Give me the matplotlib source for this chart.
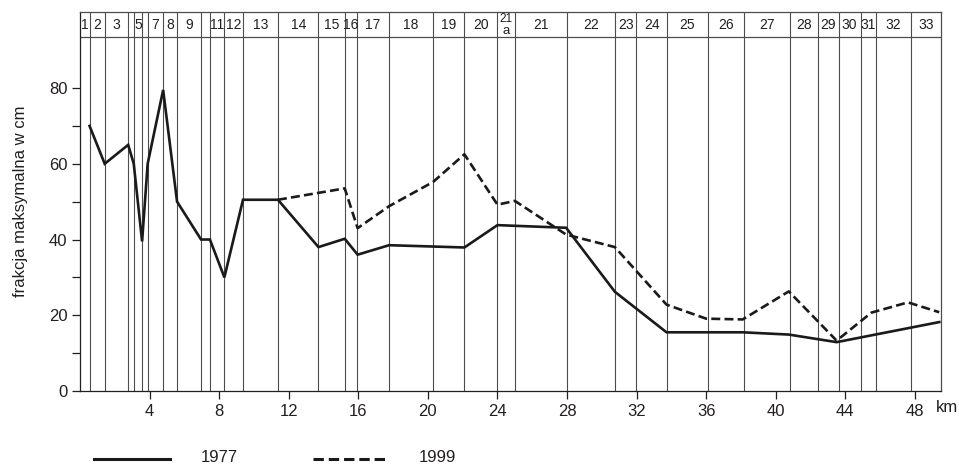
import matplotlib.pyplot as plt
from matplotlib.lines import Line2D

plt.rcParams['font.family'] = ['Liberation Sans', 'DejaVu Sans']

# section boundaries along the river (km) and their labels in the top strip
bounds = [0, 0.55, 1.42, 2.77, 3.09, 3.57, 3.89, 4.78, 5.58, 6.96, 7.47, 8.30,
          9.37, 11.38, 13.71, 15.22, 15.94, 17.75, 20.32, 22.10, 24.00, 25.00,
          27.98, 30.78, 31.96, 33.77, 36.08, 38.19, 40.83, 42.45, 43.61, 44.88,
          45.76, 47.75, 49.5]
sections = ['1', '2', '3', '', '5', '', '7', '8', '9', '', '11', '12', '13',
            '14', '15', '16', '17', '18', '19', '20', '21a', '21', '22', '23',
            '24', '25', '26', '27', '28', '29', '30', '31', '32', '33']

# 1977
km_1977 = [0.55, 1.42, 2.77, 3.09, 3.57, 3.89, 4.78, 5.58, 6.96, 7.47, 8.30,
           9.37, 11.38, 13.71, 15.22, 15.96, 17.77, 22.10, 24.0, 27.95, 30.75,
           33.72, 38.1, 40.75, 43.5, 49.4]
val_1977 = [70, 60, 65, 60, 39.5, 60, 79.5, 50, 40, 40, 30,
            50.5, 50.5, 38, 40.2, 36, 38.5, 37.9, 43.8, 43.1, 26.2,
            15.5, 15.5, 14.9, 12.9, 18.2]

# 1999
km_1999 = [11.38, 15.22, 15.96, 17.77, 20.3, 22.1, 24.0, 25.0, 27.95, 30.75,
           33.72, 36.0, 38.1, 40.75, 43.5, 45.5, 47.6, 49.4]
val_1999 = [50.5, 53.5, 43, 48.8, 55.2, 62.5, 49.2, 50.2, 41.3, 38,
            22.8, 19.1, 18.9, 26.3, 13.3, 20.7, 23.4, 20.8]

xticks = [4, 8, 12, 16, 20, 24, 28, 32, 36, 40, 44, 48]
band_low = 93.4

txt = '#231f20'
fig = plt.figure(figsize=(9.59, 4.65), dpi=100)
ax = fig.add_axes([80 / 959, 1 - 391 / 465, 861 / 959, (391 - 12.3) / 465])

ax.set_xlim(0, 49.5)
ax.set_ylim(0, 100)

# section lines
for b in bounds[1:-1]:
    ax.axvline(b, color='#4d4d4d', lw=0.8, zorder=1)
ax.axhline(band_low, color='#4d4d4d', lw=0.9, zorder=1)

for i, lab in enumerate(sections):
    xc = (bounds[i] + bounds[i + 1]) / 2
    if lab == '21a':
        ax.text(xc, 98.2, '21', ha='center', va='center', fontsize=8.5, color=txt)
        ax.text(xc, 95.1, 'a', ha='center', va='center', fontsize=9.5, color=txt)
    elif lab:
        ax.text(xc, 96.7, lab, ha='center', va='center', fontsize=10, color=txt)

ax.plot(km_1977, val_1977, color='#1a1a1a', lw=1.9, zorder=3,
        solid_joinstyle='miter')
ax.plot(km_1999, val_1999, color='#1a1a1a', lw=1.9, zorder=3,
        linestyle=(0, (3.4, 1.6)))

for s in ax.spines.values():
    s.set_color('#4d4d4d')
    s.set_linewidth(0.9)
ax.spines['left'].set_color('#231f20')
ax.spines['bottom'].set_color('#231f20')

ax.set_yticks([0, 20, 40, 60, 80])
ax.set_yticks([10, 30, 50, 70], minor=True)
ax.set_xticks(xticks)
ax.tick_params(axis='both', which='both', direction='out', length=6,
               width=0.9, color='#231f20', labelsize=12, labelcolor=txt, pad=3)
ax.tick_params(top=False, right=False)

ax.set_ylabel('frakcja maksymalna w cm', fontsize=12, color=txt)
ax.yaxis.set_label_coords(-0.060, 0.5)

fig.text(947 / 959, 1 - 407 / 465, 'km', ha='center', va='center',
         fontsize=12, color=txt)

# legend
fig.add_artist(Line2D([94 / 959, 170 / 959], [1 - 459 / 465] * 2,
                      color='#1a1a1a', lw=2.2))
fig.text(219 / 959, 1 - 457 / 465, '1977', ha='center', va='center',
         fontsize=12, color=txt)
fig.add_artist(Line2D([313 / 959, 387 / 959], [1 - 459 / 465] * 2,
                      color='#1a1a1a', lw=2.2, linestyle=(0, (3.4, 1.6))))
fig.text(437 / 959, 1 - 457 / 465, '1999', ha='center', va='center',
         fontsize=12, color=txt)

fig.savefig('out.png', dpi=100)
